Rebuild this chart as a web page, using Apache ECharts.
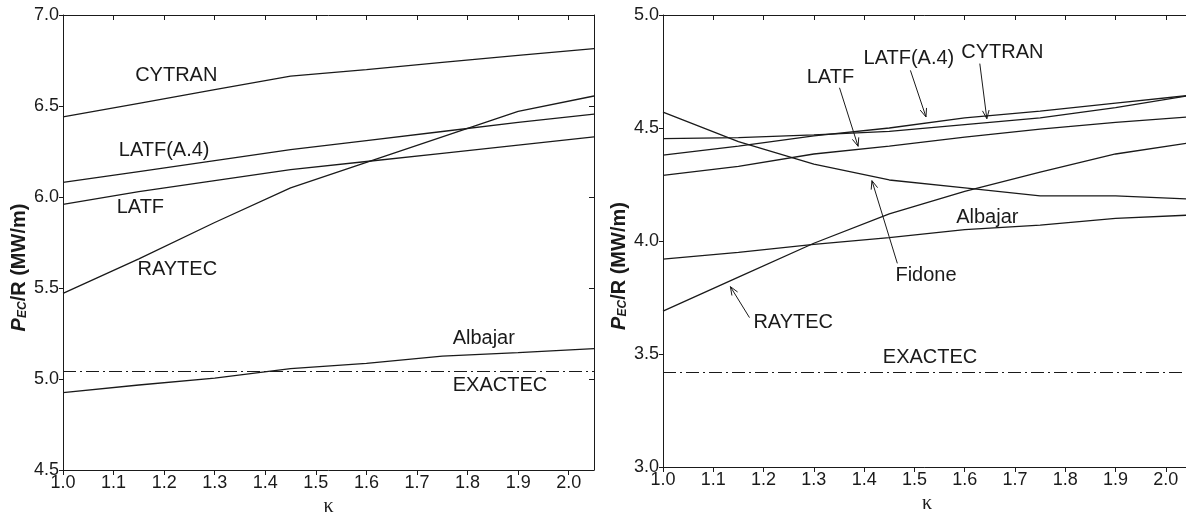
<!DOCTYPE html>
<html>
<head>
<meta charset="utf-8">
<script src="https://cdn.jsdelivr.net/npm/echarts@6.0.0/dist/echarts.min.js"></script>
<style>
  html, body { margin: 0; padding: 0; background: #fff; }
  #chart { width: 1186px; height: 514px; }
</style>
</head>
<body>
<div id="chart"></div>
<script>
// kappa grid shared by both panels
const kappa = [1.0, 1.15, 1.3, 1.45, 1.6, 1.75, 1.9, 2.05];

// left panel (P_EC/R, MW/m)
const leftCytran  = [6.44, 6.515, 6.59, 6.664, 6.70, 6.74, 6.778, 6.815];
const leftLatfA4  = [6.08, 6.14, 6.20, 6.26, 6.31, 6.36, 6.41, 6.455];
const leftLatf    = [5.96, 6.03, 6.09, 6.15, 6.195, 6.24, 6.285, 6.33];
const leftRaytec  = [5.47, 5.66, 5.86, 6.05, 6.19, 6.33, 6.47, 6.555];
const leftAlbajar = [4.925, 4.967, 5.005, 5.057, 5.086, 5.126, 5.145, 5.167];
const leftExactec = 5.04;

// right panel
const rightCytran  = [4.453, 4.457, 4.47, 4.485, 4.515, 4.545, 4.59, 4.645];
const rightLatfA4  = [4.38, 4.42, 4.465, 4.50, 4.545, 4.575, 4.61, 4.645];
const rightLatf    = [4.29, 4.33, 4.385, 4.42, 4.46, 4.495, 4.525, 4.55];
const rightRaytec  = [3.69, 3.84, 3.99, 4.12, 4.22, 4.305, 4.385, 4.435];
const rightAlbajar = [3.92, 3.95, 3.985, 4.015, 4.05, 4.07, 4.10, 4.115];
const rightFidone  = [4.57, 4.44, 4.34, 4.27, 4.235, 4.20, 4.20, 4.185];
const rightExactec = 3.417;

const xRange = [1.0, 2.05];   // labels every 0.1
const leftYRange = [4.5, 7.0];
const rightYRange = [3.0, 5.0];

// text labels, placed in data coordinates of each panel
const leftNotes = [
  ['CYTRAN', 1.224, 6.665],
  ['LATF(A.4)', 1.20, 6.258],
  ['LATF', 1.153, 5.945],
  ['RAYTEC', 1.226, 5.604],
  ['Albajar', 1.832, 5.225],
  ['EXACTEC', 1.864, 4.962]
];
const rightNotes = [
  ['LATF(A.4)', 1.489, 4.808],
  ['CYTRAN', 1.675, 4.834],
  ['LATF', 1.333, 4.723],
  ['Albajar', 1.645, 4.102],
  ['Fidone', 1.523, 3.847],
  ['RAYTEC', 1.259, 3.639],
  ['EXACTEC', 1.531, 3.484]
];
// arrows: from [k, v] to [k, v] (head at the second point)
const rightArrows = [
  [[1.351, 4.678], [1.388, 4.419]],
  [[1.492, 4.755], [1.523, 4.549]],
  [[1.630, 4.785], [1.644, 4.541]],
  [[1.466, 3.901], [1.4155, 4.267]],
  [[1.172, 3.661], [1.134, 3.798]]
];

const FONT = '"Liberation Sans", Arial, Helvetica, sans-serif';
const INK = '#1a1a1a';

const chart = echarts.init(document.getElementById('chart'));

function pairs(vals) {
  return kappa.map((k, i) => [k, vals[i]]);
}

function lineSeries(name, vals, xi, yi, exactec) {
  const s = {
    name: name,
    type: 'line',
    xAxisIndex: xi,
    yAxisIndex: yi,
    data: pairs(vals),
    symbol: 'none',
    silent: true,
    lineStyle: { color: INK, width: 1.3 }
  };
  if (exactec !== undefined) {
    s.markLine = {
      silent: true,
      symbol: ['none', 'none'],
      label: { show: false },
      animation: false,
      lineStyle: { color: INK, width: 1.2, type: [13, 4, 2, 4] },
      data: [{ yAxis: exactec }]
    };
  }
  return s;
}

function bottomAxis(grid) {
  return {
    gridIndex: grid, type: 'value', position: 'bottom',
    min: xRange[0], max: xRange[1], interval: 0.1,
    axisLine: { onZero: false, lineStyle: { color: INK, width: 1 } },
    axisTick: { length: 5, lineStyle: { color: INK } },
    axisLabel: {
      color: INK, fontSize: 18, fontFamily: FONT, margin: 4,
      showMaxLabel: false,
      formatter: v => v.toFixed(1)
    },
    splitLine: { show: false },
    name: 'κ', nameLocation: 'middle', nameGap: 27,
    nameTextStyle: { fontFamily: '"Liberation Serif", "Times New Roman", serif', fontSize: 20, color: INK }
  };
}

function topAxis(grid) {
  return {
    gridIndex: grid, type: 'value', position: 'top',
    min: xRange[0], max: xRange[1], interval: 0.1,
    axisLine: { onZero: false, lineStyle: { color: INK, width: 1 } },
    axisTick: { inside: true, length: 5, lineStyle: { color: INK } },
    axisLabel: { show: false },
    splitLine: { show: false }
  };
}

const yName = '{p|P}{s|EC}{r|/R (MW/m)}';
const yNameStyle = {
  color: INK, fontFamily: FONT, fontWeight: 'bold', fontSize: 20,
  padding: [0, 50, 0, 0],
  rich: {
    p: { fontFamily: FONT, fontWeight: 'bold', fontStyle: 'italic', fontSize: 20, color: INK },
    s: { fontFamily: FONT, fontWeight: 'bold', fontStyle: 'italic', fontSize: 12, color: INK, verticalAlign: 'bottom', lineHeight: 14 },
    r: { fontFamily: FONT, fontWeight: 'bold', fontSize: 20, color: INK }
  }
};

function leftYAxis(grid, range) {
  return {
    gridIndex: grid, type: 'value', position: 'left',
    min: range[0], max: range[1], interval: 0.5,
    axisLine: { show: true, onZero: false, lineStyle: { color: INK, width: 1 } },
    axisTick: { show: true, length: 4, lineStyle: { color: INK } },
    axisLabel: { color: INK, fontSize: 18, fontFamily: FONT, margin: 4, formatter: v => v.toFixed(1) },
    splitLine: { show: false },
    name: yName, nameLocation: 'middle', nameRotate: 90, nameGap: 34,
    nameTextStyle: yNameStyle
  };
}

const option = {
  animation: false,
  backgroundColor: '#fff',
  grid: [
    { left: 63, top: 15, width: 531, bottom: 44, containLabel: false, outerBoundsMode: 'none' },
    { left: 663, top: 15, width: 528, bottom: 47, containLabel: false, outerBoundsMode: 'none' }
  ],
  xAxis: [bottomAxis(0), topAxis(0), bottomAxis(1), topAxis(1)],
  yAxis: [
    leftYAxis(0, leftYRange),
    {
      gridIndex: 0, type: 'value', position: 'right',
      min: leftYRange[0], max: leftYRange[1], interval: 0.5,
      axisLine: { show: true, onZero: false, lineStyle: { color: INK, width: 1 } },
      axisTick: { show: true, inside: true, length: 5, lineStyle: { color: INK } },
      axisLabel: { show: false },
      splitLine: { show: false }
    },
    leftYAxis(1, rightYRange)
  ],
  series: [
    lineSeries('CYTRAN', leftCytran, 0, 0),
    lineSeries('LATF(A.4)', leftLatfA4, 0, 0),
    lineSeries('LATF', leftLatf, 0, 0),
    lineSeries('RAYTEC', leftRaytec, 0, 0),
    lineSeries('Albajar', leftAlbajar, 0, 0, leftExactec),
    lineSeries('CYTRAN', rightCytran, 2, 2),
    lineSeries('LATF(A.4)', rightLatfA4, 2, 2),
    lineSeries('LATF', rightLatf, 2, 2),
    lineSeries('RAYTEC', rightRaytec, 2, 2),
    lineSeries('Albajar', rightAlbajar, 2, 2, rightExactec),
    lineSeries('Fidone', rightFidone, 2, 2)
  ]
};

chart.setOption(option);

// annotations: labels and arrows, positioned through the grids' scales
function toPx(grid, k, v) {
  return chart.convertToPixel({ gridIndex: grid }, [k, v]);
}

const graphics = [];
function addNotes(grid, notes) {
  notes.forEach(n => {
    const p = toPx(grid, n[1], n[2]);
    graphics.push({
      type: 'text', x: p[0], y: p[1], silent: true,
      style: { text: n[0], font: '20px ' + FONT, fill: INK, align: 'center', verticalAlign: 'middle' }
    });
  });
}
addNotes(0, leftNotes);
addNotes(1, rightNotes);

rightArrows.forEach(a => {
  const s = toPx(1, a[0][0], a[0][1]);
  const e = toPx(1, a[1][0], a[1][1]);
  const dx = e[0] - s[0], dy = e[1] - s[1];
  const len = Math.sqrt(dx * dx + dy * dy);
  const ux = dx / len, uy = dy / len;
  const hl = 9, ang = 0.38;
  const c = Math.cos(ang), sn = Math.sin(ang);
  const l1 = [e[0] - hl * (ux * c - uy * sn), e[1] - hl * (uy * c + ux * sn)];
  const l2 = [e[0] - hl * (ux * c + uy * sn), e[1] - hl * (uy * c - ux * sn)];
  graphics.push({
    type: 'line', silent: true,
    shape: { x1: s[0], y1: s[1], x2: e[0], y2: e[1] },
    style: { stroke: INK, lineWidth: 1 }
  });
  graphics.push({
    type: 'polyline', silent: true,
    shape: { points: [l1, e, l2] },
    style: { stroke: INK, lineWidth: 1, fill: null }
  });
});

chart.setOption({ graphic: graphics });
</script>
</body>
</html>
